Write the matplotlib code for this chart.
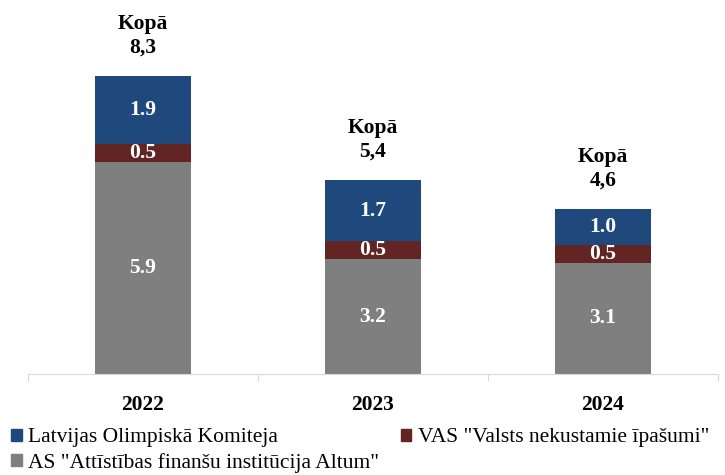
import numpy as np
import matplotlib
matplotlib.use('Agg')
import matplotlib.pyplot as plt
from matplotlib.patches import Patch

# ------ DATA ------
years = ['2022', '2023', '2024']
altum = [5.9, 3.2, 3.1]
vni = [0.5, 0.5, 0.5]
lok = [1.9, 1.7, 1.0]
totals = ['8,3', '5,4', '4,6']

names = ['Latvijas Olimpiskā Komiteja',
         'VAS "Valsts nekustamie īpašumi"',
         'AS "Attīstības finanšu institūcija Altum"']
colors = ['#1F497D', '#632523', '#7F7F7F']

plt.rcParams['font.family'] = ['Liberation Serif', 'DejaVu Serif']

fig = plt.figure(figsize=(7.25, 4.75), dpi=100)
ax = fig.add_axes([28/725, 101/475, 690/725, 374/475])

x = np.arange(len(years)) + 0.5
w = 0.42
altum = np.array(altum)
vni = np.array(vni)
lok = np.array(lok)

ax.bar(x, altum, w, color=colors[2], label=names[2])
ax.bar(x, vni, w, bottom=altum, color=colors[1], label=names[1])
ax.bar(x, lok, w, bottom=altum + vni, color=colors[0], label=names[0])

# values inside segments
for i in range(len(years)):
    segs = [(0, altum[i]), (altum[i], vni[i]), (altum[i] + vni[i], lok[i])]
    for b, h in segs:
        ax.text(x[i], b + h / 2, f'{h:.1f}', ha='center', va='center',
                color='white', fontsize=15.5, fontweight='bold')
    top = altum[i] + vni[i] + lok[i]
    ax.text(x[i], top + 0.8, totals[i], ha='center', va='center',
            fontsize=15.5, fontweight='bold')
    ax.text(x[i], top + 1.45, 'Kopā', ha='center', va='center',
            fontsize=15.5, fontweight='bold')

ax.set_xlim(0, 3)
ax.set_ylim(0, 374 / 35.9)

for s in ['top', 'right', 'left']:
    ax.spines[s].set_visible(False)
ax.spines['bottom'].set_color('#D9D9D9')
ax.set_yticks([])

ax.set_xticks([0, 1, 2, 3])
ax.set_xticklabels([])
ax.tick_params(axis='x', which='major', length=5, color='#D9D9D9')
ax.set_xticks(x, minor=True)
ax.set_xticklabels(years, minor=True, fontsize=15.5, fontweight='bold')
ax.tick_params(axis='x', which='minor', length=0, pad=15)

handles = [Patch(color=colors[0]), Patch(color=colors[2]), Patch(color=colors[1])]
labels = [names[0], names[2], names[1]]
fig.legend(handles, labels, ncol=2, loc='lower left',
           bbox_to_anchor=(0.0, -0.018), frameon=False, fontsize=15.5,
           handlelength=0.5, handleheight=0.5, handletextpad=0.3,
           columnspacing=1.0, labelspacing=0.25, borderaxespad=0.1)

fig.savefig('out.png', dpi=100)
